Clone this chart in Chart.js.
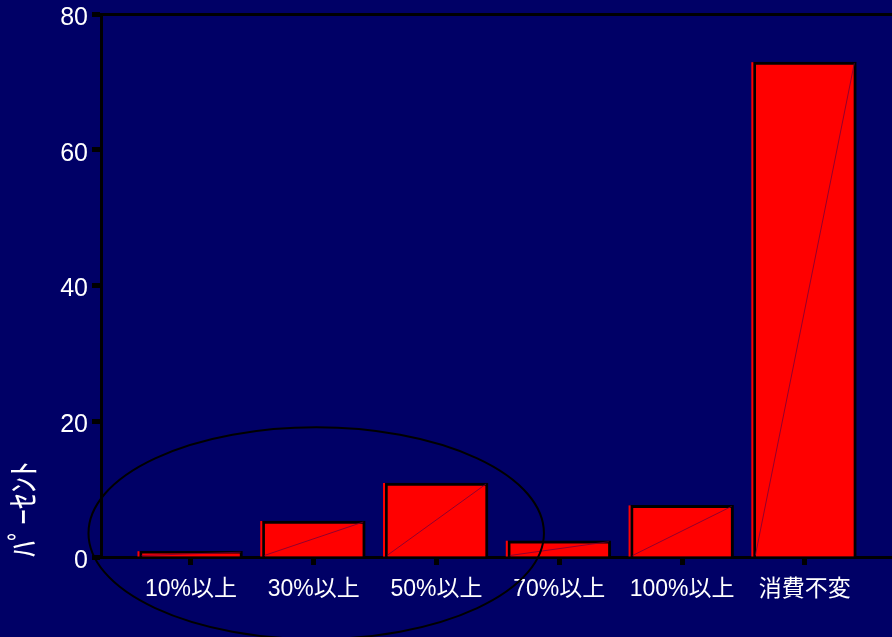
<!DOCTYPE html>
<html>
<head>
<meta charset="utf-8">
<script src="https://cdn.jsdelivr.net/npm/chart.js@4"></script>
<style>
  html, body { margin: 0; padding: 0; background: #000066; }
  #wrap { width: 892px; height: 637px; }
</style>
</head>
<body>
<div id="wrap"><canvas id="grafica" width="892" height="637"></canvas></div>
<script>
// datos
const categorias = ["10%以上", "30%以上", "50%以上", "70%以上", "100%以上", "消費不変"];
const porcentajes = [0.85, 5.3, 10.9, 2.4, 7.6, 72.9];
const ticksY = [0, 20, 40, 60, 80];
const tituloY = "ﾊﾟｰｾﾝﾄ";

const fuente = "'Liberation Sans', 'Noto Sans CJK JP', sans-serif";

// elipse alrededor de las tres primeras barras (en unidades de datos)
const elipse = { cx: 1.02, cy: 3.5, rx: 1.855, ry: 15.6 };

const adornos = {
    id: "adornos",
    afterDatasetsDraw(chart) {
        const c = chart.ctx;
        const barras = chart.getDatasetMeta(0).data;
        c.save();
        barras.forEach(b => {
            const izq = b.x - b.width / 2;
            const der = b.x + b.width / 2;
            // franja roja a la izquierda
            c.fillStyle = "#ff0000";
            c.fillRect(izq - 2, b.y, 2, b.base - b.y);
            // diagonal tenue
            c.strokeStyle = "rgba(110,0,60,0.75)";
            c.lineWidth = 1;
            c.beginPath();
            c.moveTo(izq + 2, b.base - 1);
            c.lineTo(der - 2, b.y + 1);
            c.stroke();
        });
        c.restore();
    },
    afterDraw(chart) {
        const x = chart.scales.x, y = chart.scales.y;
        const cx = x.getPixelForValue(elipse.cx);
        const cy = y.getPixelForValue(elipse.cy);
        const rx = x.getPixelForValue(elipse.cx + elipse.rx) - cx;
        const ry = cy - y.getPixelForValue(elipse.cy + elipse.ry);
        const c = chart.ctx;
        c.save();
        c.strokeStyle = "#000000";
        c.lineWidth = 2;
        c.beginPath();
        c.ellipse(cx, cy, rx, ry, 0, 0, Math.PI * 2);
        c.stroke();
        c.restore();
    }
};

const fondo = {
    id: "fondo",
    beforeDraw(chart) {
        const c = chart.ctx;
        c.save();
        c.fillStyle = "#000066";
        c.fillRect(0, 0, chart.width, chart.height);
        c.restore();
    }
};

new Chart(document.getElementById("grafica"), {
    type: "bar",
    data: {
        datasets: [{
            data: porcentajes.map((v, i) => ({ x: i, y: v })),
            backgroundColor: "#ff0000",
            borderColor: "#000000",
            borderWidth: 3,
            barThickness: 103
        }]
    },
    options: {
        responsive: false,
        animation: false,
        layout: { padding: 0 },
        plugins: { legend: { display: false }, tooltip: { enabled: false } },
        scales: {
            x: {
                type: "linear",
                offset: false,
                min: -0.733,
                max: 5.71,
                afterBuildTicks: s => { s.ticks = categorias.map((c, i) => ({ value: i })); },
                afterFit: s => { s.height = 80; s.paddingLeft = 0; s.paddingRight = 0; },
                ticks: {
                    color: "#ffffff",
                    font: { family: fuente, size: 23 },
                    padding: 11,
                    maxRotation: 0,
                    autoSkip: false,
                    callback: v => categorias[v]
                },
                grid: {
                    display: true,
                    offset: false,
                    drawOnChartArea: false,
                    drawTicks: true,
                    tickLength: 8,
                    tickWidth: 5,
                    tickColor: "#000000"
                },
                border: { display: true, color: "#000000", width: 3 }
            },
            x2: {
                type: "linear",
                position: "top",
                afterFit: s => { s.height = 14; },
                ticks: { display: false },
                grid: { display: false, drawTicks: false },
                border: { display: true, color: "#000000", width: 3 }
            },
            y: {
                min: 0,
                max: 80,
                afterBuildTicks: s => { s.ticks = ticksY.map(v => ({ value: v })); },
                afterFit: s => { s.width = 101; s.paddingTop = 0; s.paddingBottom = 0; },
                ticks: {
                    color: "#ffffff",
                    font: { family: fuente, size: 25 },
                    padding: 4,
                    labelOffset: 4
                },
                grid: {
                    display: true,
                    drawOnChartArea: false,
                    drawTicks: true,
                    tickLength: 9,
                    tickWidth: 5,
                    tickColor: "#000000"
                },
                border: { display: true, color: "#000000", width: 3 },
                title: {
                    display: true,
                    text: tituloY,
                    align: "start",
                    color: "#ffffff",
                    font: { family: "'Noto Sans CJK JP', sans-serif", size: 32 },
                    padding: { top: 4, bottom: 0 }
                }
            }
        }
    },
    plugins: [fondo, adornos]
});
</script>
</body>
</html>
